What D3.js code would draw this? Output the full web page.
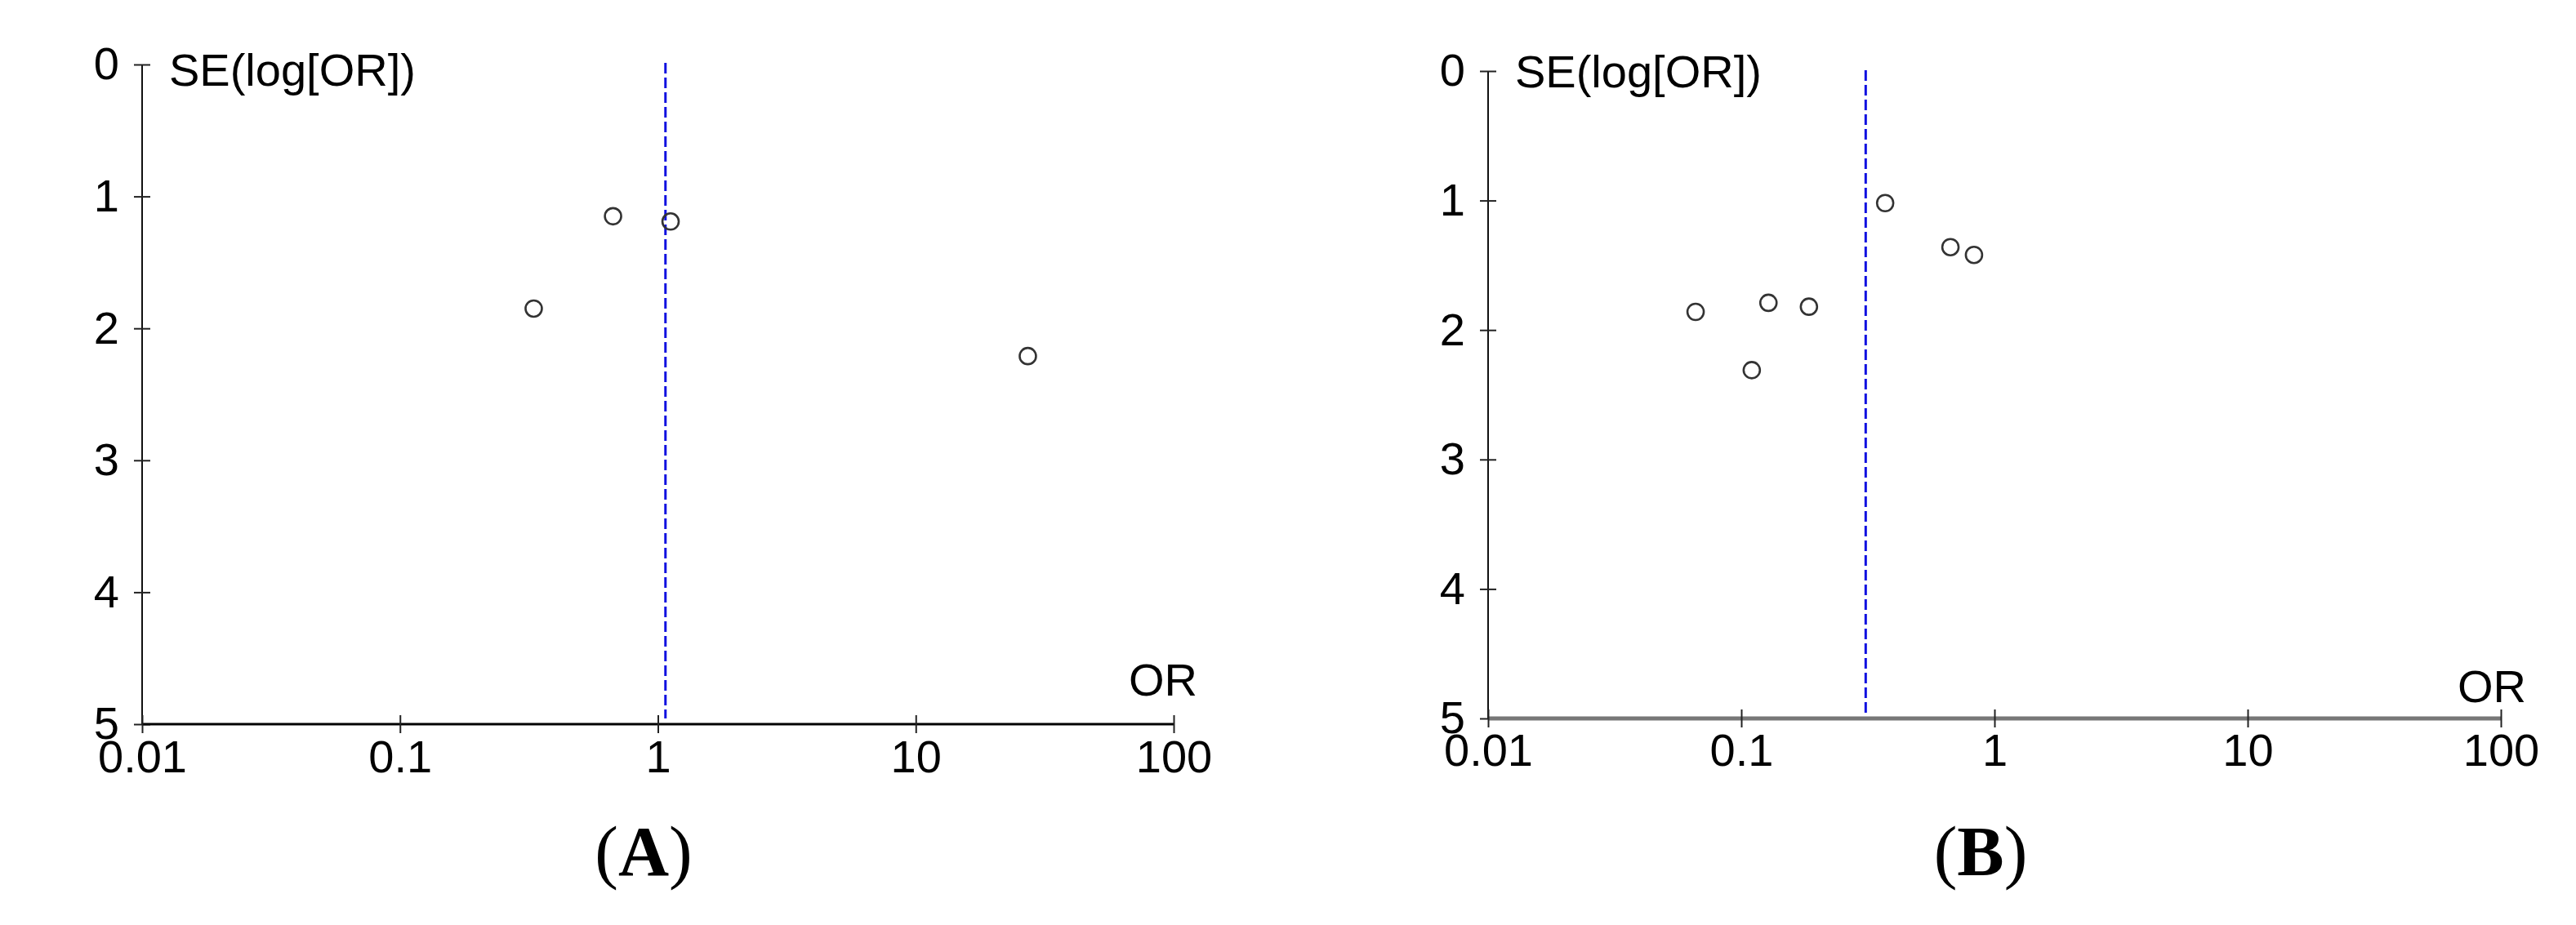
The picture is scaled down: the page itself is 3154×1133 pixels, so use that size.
<!DOCTYPE html>
<html>
<head>
<meta charset="utf-8">
<script src="https://cdn.jsdelivr.net/npm/d3@7"></script>
<style>
  body { margin: 0; background: #fff; }
  svg { display: block; }
</style>
</head>
<body>
<svg id="chart" width="3154" height="1133"></svg>
<script>
// funnel plot data
const orTicks = [0.01, 0.1, 1, 10, 100];
const seTicks = [0, 1, 2, 3, 4, 5];

// panel A studies
const orA = [0.67, 1.12, 0.33, 27.2];
const seA = [1.15, 1.19, 1.85, 2.21];
const pooledA = 1.07;

// panel B studies
const orB = [0.37, 0.67, 0.83, 0.066, 0.128, 0.185, 0.11];
const seB = [1.02, 1.36, 1.42, 1.86, 1.79, 1.82, 2.31];
const pooledB = 0.31;

const svg = d3.select("#chart");
const fontSans = "'Liberation Sans', Arial, sans-serif";

// layout of each panel (pixels)
const panels = [
  { or: orA, se: seA, pooled: pooledA, x0: 174, x1: 1437, y0: 79, y1: 887,
    axisColor: "#000", axisWidth: 3, orDx: 29, orDy: -35, seY: 105,
    labelY: 946, caption: "A", capX: 788, dashTop: 77, dashBottom: 880 },
  { or: orB, se: seB, pooled: pooledB, x0: 1822, x1: 3062, y0: 87, y1: 880,
    axisColor: "#777", axisWidth: 5, orDx: 31, orDy: -20, seY: 107,
    labelY: 938, caption: "B", capX: 2425, dashTop: 86, dashBottom: 873 }
];

panels.forEach(p => {
  const x = d3.scaleLog().domain([0.01, 100]).range([p.x0, p.x1]);
  const y = d3.scaleLinear().domain([0, 5]).range([p.y0, p.y1]);

  const g = svg.append("g");

  // y axis
  const yAxis = g.append("g")
    .attr("transform", `translate(${p.x0},0)`)
    .call(d3.axisLeft(y).tickValues(seTicks).tickSize(10).tickPadding(18).tickFormat(d => d));
  yAxis.select(".domain").attr("d", `M0,${p.y0}V${p.y1}`).attr("stroke", "#111").attr("stroke-width", 2);
  yAxis.selectAll(".tick line").attr("x1", 10).attr("stroke", "#222").attr("stroke-width", 2);
  yAxis.selectAll(".tick text")
    .attr("font-family", fontSans).attr("font-size", 56).attr("fill", "#000");

  // x axis
  const xAxis = g.append("g")
    .attr("transform", `translate(0,${p.y1})`)
    .call(d3.axisBottom(x).tickValues(orTicks).tickSize(10).tickFormat(d => d));
  xAxis.select(".domain").attr("d", `M${p.x0},0H${p.x1}`)
    .attr("stroke", p.axisColor).attr("stroke-width", p.axisWidth);
  xAxis.selectAll(".tick line").attr("y1", -11).attr("y2", 11).attr("stroke", "#222").attr("stroke-width", 2);
  xAxis.selectAll(".tick text")
    .attr("y", p.labelY - p.y1).attr("dy", null)
    .attr("font-family", fontSans).attr("font-size", 56).attr("fill", "#000");

  // pooled estimate
  g.append("line")
    .attr("x1", x(p.pooled)).attr("x2", x(p.pooled))
    .attr("y1", p.dashTop).attr("y2", p.dashBottom)
    .attr("stroke", "#1010e0").attr("stroke-width", 3)
    .attr("stroke-dasharray", "13,5");

  // studies
  g.selectAll("circle.study")
    .data(p.or.map((v, i) => ({ or: v, se: p.se[i] })))
    .enter().append("circle")
    .attr("class", "study")
    .attr("cx", d => x(d.or))
    .attr("cy", d => y(d.se))
    .attr("r", 10)
    .attr("fill", "none")
    .attr("stroke", "#333")
    .attr("stroke-width", 2.6);

  // axis titles
  g.append("text")
    .attr("x", p.x0 + 33).attr("y", p.seY)
    .attr("font-family", fontSans).attr("font-size", 56)
    .text("SE(log[OR])");

  g.append("text")
    .attr("x", p.x1 + p.orDx).attr("y", p.y1 + p.orDy)
    .attr("text-anchor", "end")
    .attr("font-family", fontSans).attr("font-size", 56)
    .text("OR");

  // panel caption
  const cap = g.append("text")
    .attr("x", p.capX).attr("y", 1072)
    .attr("text-anchor", "middle")
    .attr("font-family", "'Liberation Serif', 'Times New Roman', serif")
    .attr("font-size", 86);
  cap.append("tspan").text("(");
  cap.append("tspan").attr("font-weight", "bold").text(p.caption);
  cap.append("tspan").text(")");
});
</script>
</body>
</html>
